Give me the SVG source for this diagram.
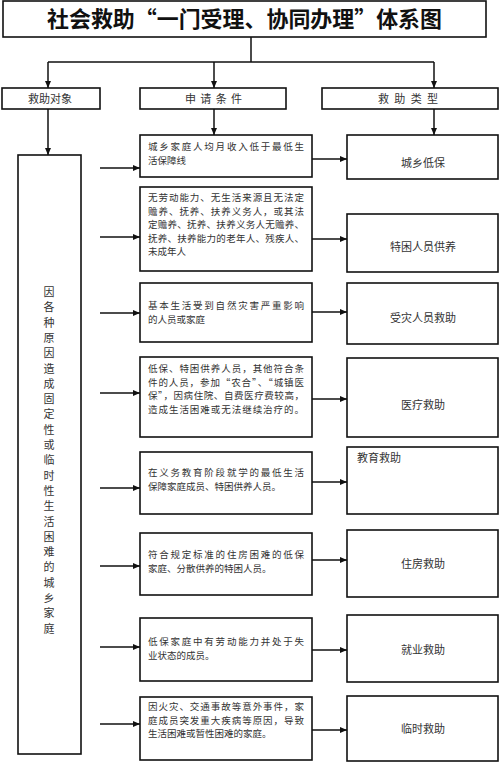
<svg xmlns="http://www.w3.org/2000/svg" width="500" height="763" viewBox="0 0 500 763">
<style>
.box{fill:#fff;stroke:#111;stroke-width:1.6}
.ln{fill:none;stroke:#111;stroke-width:1.5}
.t{font-family:"Noto Sans CJK SC","Liberation Sans",sans-serif;fill:#333}
.mt{font-size:9.5px}
.rt{font-size:11px;text-anchor:middle}
.ht{font-size:11px}
.title{font-family:"Noto Sans CJK SC","Liberation Sans",sans-serif;font-size:22px;font-weight:bold;fill:#111;text-anchor:middle}
</style>
<defs>
<marker id="ar" markerUnits="userSpaceOnUse" markerWidth="7" markerHeight="6" refX="7" refY="3" orient="auto">
<path d="M0,0 L7,3 L0,6 z" fill="#111"/>
</marker>
</defs>
<rect width="500" height="763" fill="#fff"/>

<g id="title">
<rect class="box" x="3" y="1" width="483" height="36"/>
<text class="title" x="244.5" y="27" textLength="395" lengthAdjust="spacingAndGlyphs">社会救助“一门受理、协同办理”体系图</text>
</g>

<g id="connectors">
<path class="ln" d="M251,37 V62 M48,62 H434"/>
<path class="ln" d="M48,62 V88" marker-end="url(#ar)"/>
<path class="ln" d="M214,62 V88" marker-end="url(#ar)"/>
<path class="ln" d="M434,62 V88" marker-end="url(#ar)"/>
<path class="ln" d="M48,109 V155" marker-end="url(#ar)"/>
<path class="ln" d="M214,109 V135" marker-end="url(#ar)"/>
<path class="ln" d="M434,109 V135" marker-end="url(#ar)"/>
<path class="ln" d="M100,168 H140" marker-end="url(#ar)"/>
<path class="ln" d="M100,237 H140" marker-end="url(#ar)"/>
<path class="ln" d="M100,313 H140" marker-end="url(#ar)"/>
<path class="ln" d="M100,393 H140" marker-end="url(#ar)"/>
<path class="ln" d="M100,488 H140" marker-end="url(#ar)"/>
<path class="ln" d="M100,566 H140" marker-end="url(#ar)"/>
<path class="ln" d="M100,647 H140" marker-end="url(#ar)"/>
<path class="ln" d="M100,724 H140" marker-end="url(#ar)"/>
<path class="ln" d="M312,159 H347" marker-end="url(#ar)"/>
<path class="ln" d="M312,239 H347" marker-end="url(#ar)"/>
<path class="ln" d="M312,312 H347" marker-end="url(#ar)"/>
<path class="ln" d="M312,399 H347" marker-end="url(#ar)"/>
<path class="ln" d="M312,482 H347" marker-end="url(#ar)"/>
<path class="ln" d="M312,560 H347" marker-end="url(#ar)"/>
<path class="ln" d="M312,650 H347" marker-end="url(#ar)"/>
<path class="ln" d="M312,730 H347" marker-end="url(#ar)"/>
</g>

<g id="h1">
<rect class="box" x="2" y="88" width="98" height="21"/>
<text class="t ht" x="50" y="102.5" text-anchor="middle">救助对象</text>
</g>
<g id="h2">
<rect class="box" x="140" y="88" width="146" height="21"/>
<text class="t ht" x="185" y="102.5" textLength="57" lengthAdjust="spacing">申请条件</text>
</g>
<g id="h3">
<rect class="box" x="322" y="88" width="176" height="21"/>
<text class="t ht" x="378" y="102.5" textLength="60" lengthAdjust="spacing">救助类型</text>
</g>

<g id="target">
<rect class="box" x="18" y="155" width="63" height="599"/>
<text class="t" font-size="11" fill="#444" text-anchor="middle">
<tspan x="49" y="296">因</tspan><tspan x="49" y="311.3">各</tspan><tspan x="49" y="326.6">种</tspan><tspan x="49" y="341.9">原</tspan><tspan x="49" y="357.2">因</tspan><tspan x="49" y="372.5">造</tspan><tspan x="49" y="387.8">成</tspan><tspan x="49" y="403.1">固</tspan><tspan x="49" y="418.4">定</tspan><tspan x="49" y="433.7">性</tspan><tspan x="49" y="449">或</tspan><tspan x="49" y="464.3">临</tspan><tspan x="49" y="479.6">时</tspan><tspan x="49" y="494.9">性</tspan><tspan x="49" y="510.2">生</tspan><tspan x="49" y="525.5">活</tspan><tspan x="49" y="540.8">困</tspan><tspan x="49" y="556.1">难</tspan><tspan x="49" y="571.4">的</tspan><tspan x="49" y="586.7">城</tspan><tspan x="49" y="602">乡</tspan><tspan x="49" y="617.3">家</tspan><tspan x="49" y="632.6">庭</tspan>
</text>
</g>

<g id="c1">
<rect class="box" x="140" y="135" width="172" height="42"/>
<text class="t mt"><tspan x="148" y="150" textLength="156" lengthAdjust="spacing">城乡家庭人均月收入低于最低生</tspan><tspan x="148" y="163.5">活保障线</tspan></text>
</g>
<g id="c2">
<rect class="box" x="140" y="187" width="172" height="84"/>
<text class="t mt"><tspan x="148" y="201" textLength="156" lengthAdjust="spacing">无劳动能力、无生活来源且无法定</tspan><tspan x="148" y="214.5" textLength="156" lengthAdjust="spacing">赡养、抚养、扶养义务人，或其法</tspan><tspan x="148" y="228" textLength="156" lengthAdjust="spacing">定赡养、抚养、扶养义务人无赡养、</tspan><tspan x="148" y="241.5" textLength="156" lengthAdjust="spacing">抚养、扶养能力的老年人、残疾人、</tspan><tspan x="148" y="255">未成年人</tspan></text>
</g>
<g id="c3">
<rect class="box" x="140" y="283" width="172" height="59"/>
<text class="t mt"><tspan x="148" y="309" textLength="156" lengthAdjust="spacing">基本生活受到自然灾害严重影响</tspan><tspan x="148" y="322.5">的人员或家庭</tspan></text>
</g>
<g id="c4">
<rect class="box" x="140" y="357" width="172" height="80"/>
<text class="t mt"><tspan x="148" y="372" textLength="156" lengthAdjust="spacing">低保、特困供养人员，其他符合条</tspan><tspan x="148" y="385.5" textLength="156" lengthAdjust="spacing">件的人员，参加“农合”、“城镇医</tspan><tspan x="148" y="399" textLength="156" lengthAdjust="spacing">保”，因病住院、自费医疗费较高，</tspan><tspan x="148" y="412.5" textLength="156" lengthAdjust="spacing">造成生活困难或无法继续治疗的。</tspan></text>
</g>
<g id="c5">
<rect class="box" x="140" y="452" width="172" height="62"/>
<text class="t mt"><tspan x="148" y="476" textLength="156" lengthAdjust="spacing">在义务教育阶段就学的最低生活</tspan><tspan x="148" y="489.5">保障家庭成员、特困供养人员。</tspan></text>
</g>
<g id="c6">
<rect class="box" x="140" y="533" width="172" height="62"/>
<text class="t mt"><tspan x="148" y="558" textLength="156" lengthAdjust="spacing">符合规定标准的住房困难的低保</tspan><tspan x="148" y="571.5">家庭、分散供养的特困人员。</tspan></text>
</g>
<g id="c7">
<rect class="box" x="140" y="618" width="172" height="63"/>
<text class="t mt"><tspan x="148" y="645" textLength="156" lengthAdjust="spacing">低保家庭中有劳动能力并处于失</tspan><tspan x="148" y="658.5">业状态的成员。</tspan></text>
</g>
<g id="c8">
<rect class="box" x="140" y="697" width="172" height="63"/>
<text class="t mt"><tspan x="148" y="710" textLength="156" lengthAdjust="spacing">因火灾、交通事故等意外事件，家</tspan><tspan x="148" y="723.5" textLength="156" lengthAdjust="spacing">庭成员突发重大疾病等原因，导致</tspan><tspan x="148" y="737">生活困难或暂性困难的家庭。</tspan></text>
</g>

<g id="r1"><rect class="box" x="347" y="135" width="151" height="44"/><text class="t rt" x="423" y="167">城乡低保</text></g>
<g id="r2"><rect class="box" x="347" y="214" width="151" height="58"/><text class="t rt" x="423" y="251">特困人员供养</text></g>
<g id="r3"><rect class="box" x="347" y="283" width="151" height="61"/><text class="t rt" x="423" y="322">受灾人员救助</text></g>
<g id="r4"><rect class="box" x="347" y="358" width="151" height="79"/><text class="t rt" x="423" y="409">医疗救助</text></g>
<g id="r5"><rect class="box" x="347" y="447" width="151" height="67"/><text class="t" font-size="11" x="357" y="462">教育救助</text></g>
<g id="r6"><rect class="box" x="347" y="530" width="151" height="67"/><text class="t rt" x="423" y="568">住房救助</text></g>
<g id="r7"><rect class="box" x="347" y="615" width="151" height="67"/><text class="t rt" x="423" y="654">就业救助</text></g>
<g id="r8"><rect class="box" x="347" y="696" width="151" height="65"/><text class="t rt" x="423" y="733">临时救助</text></g>
</svg>
